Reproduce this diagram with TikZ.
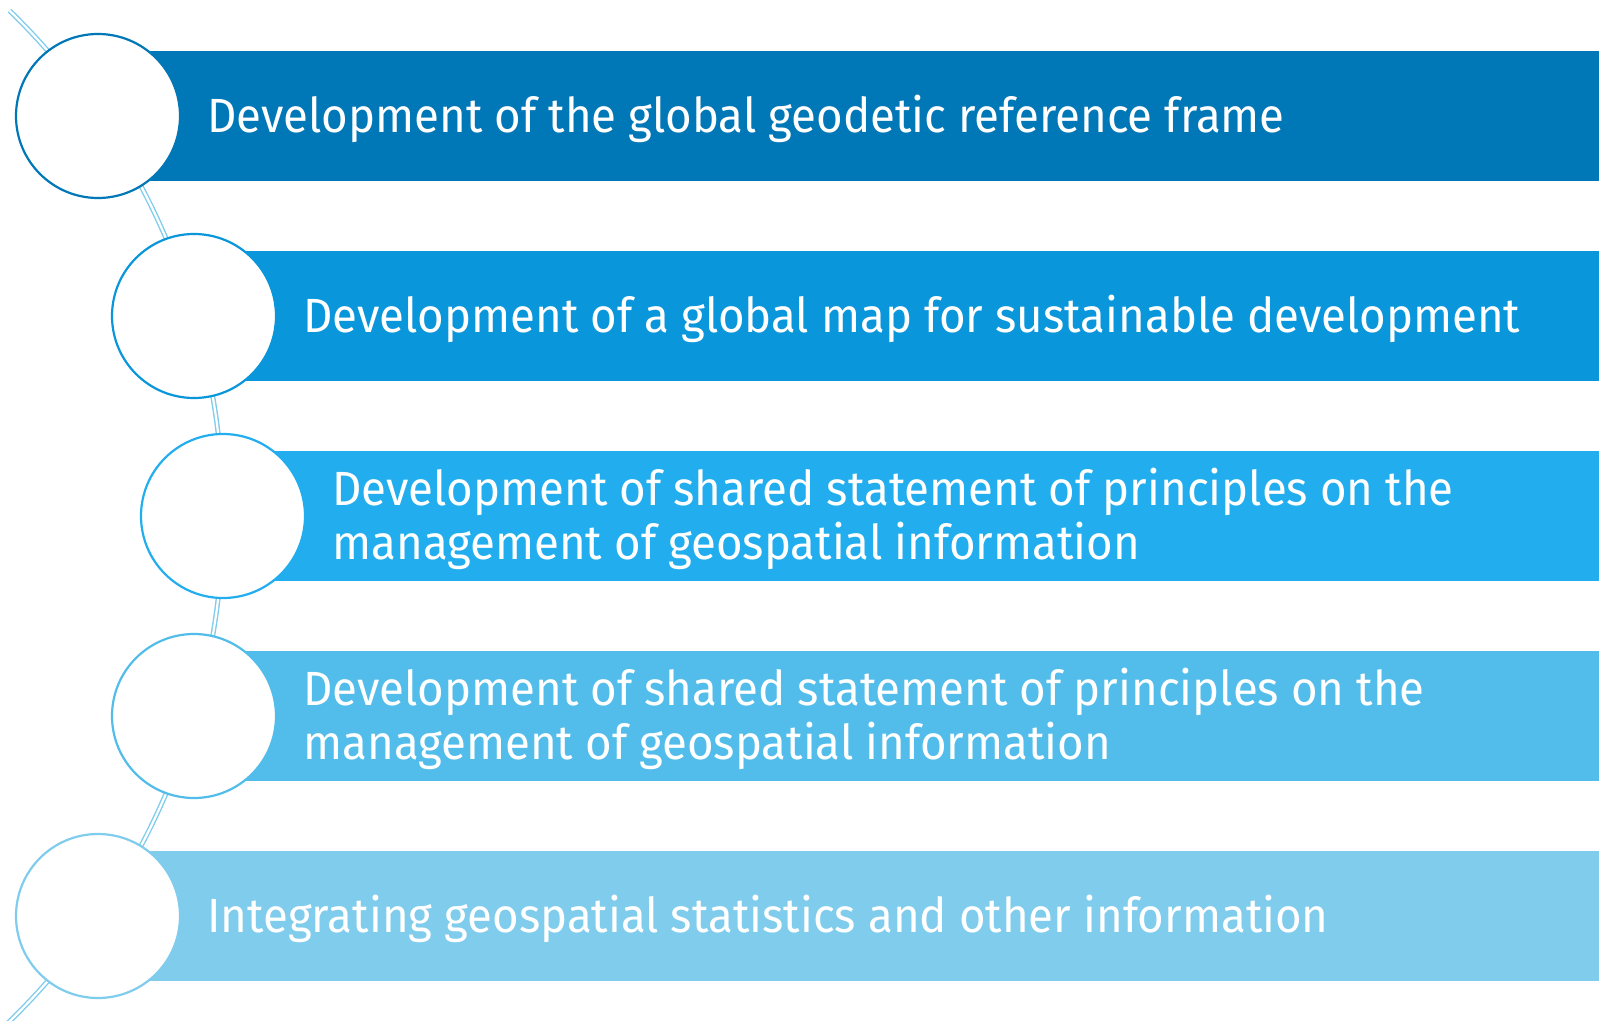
\documentclass[tikz,border=0pt]{standalone}
\usepackage{fontspec}
\setmainfont[FakeStretch=0.95]{Fira Sans}
\usepackage{tikz}
\usetikzlibrary{positioning,calc}

\definecolor{blueA}{HTML}{0077B6}
\definecolor{blueB}{HTML}{0A96DB}
\definecolor{blueC}{HTML}{22AEEE}
\definecolor{blueD}{HTML}{52BDEA}
\definecolor{blueE}{HTML}{80CCEC}

\begin{document}
\begin{tikzpicture}[x=0.5pt, y=0.5pt,
    bar/.style={rectangle, inner sep=0pt, minimum height=65pt, anchor=west},
    disc/.style={circle, draw, fill=white, line width=1.1pt, inner sep=0pt, minimum size=82pt},
    label/.style={anchor=west, inner sep=0pt, text=white, align=left, yshift=-1.2pt,
        font=\fontsize{24}{27}\selectfont}]
    \useasboundingbox (0,-1021) rectangle (1599,0);
    \clip (0,-1021) rectangle (1599,0);

    % Double arc behind the circles
    \coordinate (hub) at (-482,-516);
    \draw[blueE, line width=0.7pt, double=white, double distance=1.1pt]
        ($(hub)+(45.8:705)$) arc[start angle=45.8, end angle=-50, radius=705];

    % Bars, circles and texts
    \foreach \i/\cx/\cy/\col/\txt in {
        1/98/116/blueA/{Development of the global geodetic reference frame},
        2/194/316/blueB/{Development of a global map for sustainable development},
        3/223/516/blueC/{Development of shared statement of principles on the\\management of geospatial information},
        4/194/716/blueD/{Development of shared statement of principles on the\\management of geospatial information},
        5/98/916/blueE/{Integrating geospatial statistics and other information}} {
        \node[bar, fill=\col, minimum width={(1599-\cx)*0.5pt}] (b\i) at (\cx,-\cy) {};
        \node[disc, draw=\col] (c\i) at (\cx,-\cy) {};
        \node[label] (t\i) at (\cx+109,-\cy) {\txt};
    }
\end{tikzpicture}
\end{document}
